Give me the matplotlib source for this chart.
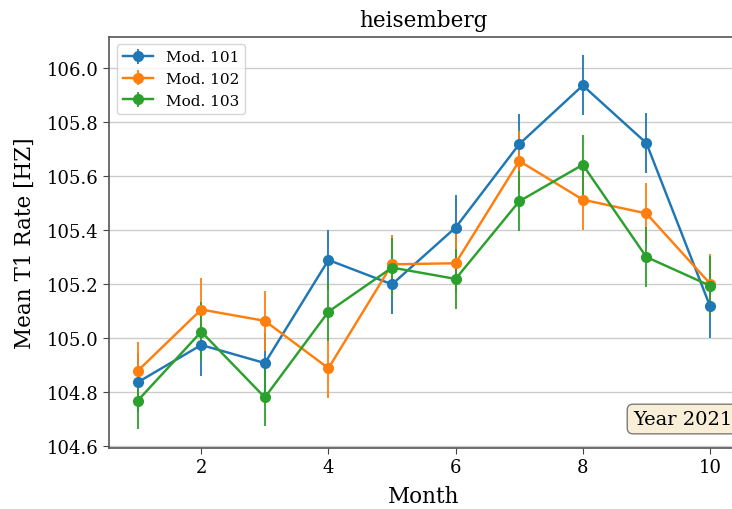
import matplotlib
matplotlib.use("Agg")
import matplotlib.pyplot as plt

months = [1, 2, 3, 4, 5, 6, 7, 8, 9, 10]

mod101 = [104.837, 104.975, 104.908, 105.289, 105.199, 105.409, 105.717, 105.934, 105.721, 105.119]
mod101_err = [0.11, 0.116, 0.11, 0.112, 0.11, 0.12, 0.11, 0.111, 0.112, 0.119]

mod102 = [104.879, 105.106, 105.064, 104.889, 105.273, 105.277, 105.655, 105.512, 105.461, 105.202]
mod102_err = [0.108, 0.115, 0.111, 0.111, 0.11, 0.11, 0.11, 0.111, 0.113, 0.11]

mod103 = [104.769, 105.024, 104.781, 105.098, 105.261, 105.219, 105.506, 105.641, 105.300, 105.194]
mod103_err = [0.105, 0.11, 0.107, 0.11, 0.11, 0.11, 0.111, 0.111, 0.112, 0.111]

series = [
    ("Mod. 101", mod101, mod101_err, "#1f77b4"),
    ("Mod. 102", mod102, mod102_err, "#ff7f0e"),
    ("Mod. 103", mod103, mod103_err, "#2ca02c"),
]

plt.rcParams["font.family"] = ["DejaVu Serif"]

fig = plt.figure(figsize=(7.32, 5.10), dpi=100)
ax = fig.add_axes([0.149, 0.120, 0.860, 0.806])

for name, vals, errs, color in series:
    ax.errorbar(months, vals, yerr=errs, label=name, color=color,
                marker="o", markersize=7, linewidth=1.75, elinewidth=1.3,
                capsize=0, zorder=3)

ax.set_title("heisemberg", fontsize=15.5, pad=8)
ax.set_xlabel("Month", fontsize=15.5, labelpad=6)
ax.set_ylabel("Mean T1 Rate [HZ]", fontsize=15.5, labelpad=8)
ax.set_xticks([2, 4, 6, 8, 10])
ax.set_yticks([104.6, 104.8, 105.0, 105.2, 105.4, 105.6, 105.8, 106.0])
ax.tick_params(axis="both", labelsize=13, length=4, color="#444444")

ax.yaxis.grid(True, color="#cccccc", linewidth=1.0)
ax.xaxis.grid(False)
ax.set_axisbelow(True)
for spine in ax.spines.values():
    spine.set_color("#555555")
    spine.set_linewidth(1.2)

ax.legend(loc="upper left", fontsize=11, framealpha=0.8, edgecolor="#cccccc")

ax.text(0.99, 0.07, "Year 2021", transform=ax.transAxes, ha="right", va="center",
        fontsize=14, bbox=dict(boxstyle="round", facecolor="wheat", alpha=0.5))

fig.savefig("out.png", dpi=100)
